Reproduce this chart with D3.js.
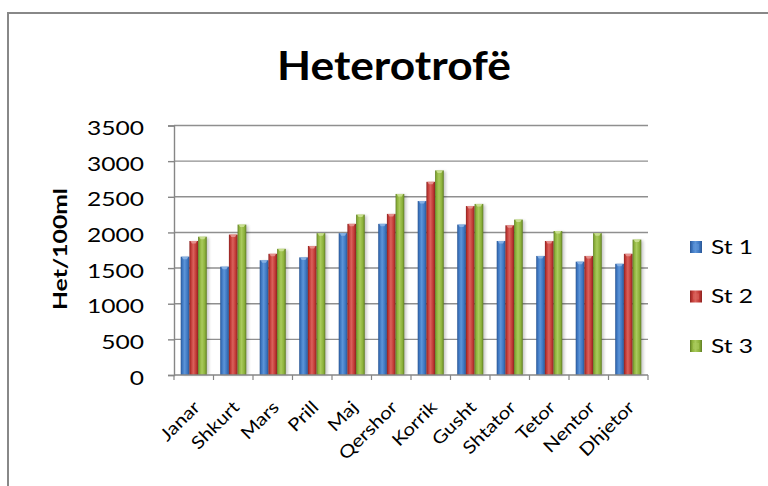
<!DOCTYPE html>
<html>
<head>
<meta charset="utf-8">
<script src="https://cdn.jsdelivr.net/npm/d3@7"></script>
<style>
  body { margin: 0; background: #fff; }
  svg { display: block; }
  text { font-family: "Lato", "Open Sans", sans-serif; fill: #000; }
</style>
</head>
<body>
<svg id="chart" width="768" height="486"></svg>
<script>
// Monthly heterotrophic counts per station
const months = ["Janar","Shkurt","Mars","Prill","Maj","Qershor","Korrik","Gusht","Shtator","Tetor","Nentor","Dhjetor"];
const seriesNames = ["St 1","St 2","St 3"];
const st1 = [1660,1520,1610,1650,1990,2120,2440,2110,1880,1670,1590,1560];
const st2 = [1880,1970,1700,1810,2120,2260,2710,2370,2100,1880,1670,1700];
const st3 = [1940,2110,1770,1990,2250,2540,2870,2400,2180,2020,1990,1900];
const yTicks = [0,500,1000,1500,2000,2500,3000,3500];
const titleText = "Heterotrofë";
const yTitleText = "Het/100ml";

const seriesValues = [st1, st2, st3];
const palette = [
  { dark: "#2a5694", main: "#3c75bf", light: "#5d95d9", cap: "#8fb6e6" },
  { dark: "#8c2220", main: "#c03834", light: "#da625c", cap: "#e99a96" },
  { dark: "#5f7d24", main: "#8cb13a", light: "#a9ca5c", cap: "#cfe39a" }
];

const svg = d3.select("#chart");
const plot = { left: 174, right: 648, top: 125.5, bottom: 375 };

const x0 = d3.scaleBand().domain(months).range([plot.left, plot.right])
  .paddingInner(0.34).paddingOuter(0.17);
const x1 = d3.scaleBand().domain(seriesNames).range([0, x0.bandwidth()]).padding(0);
const y = d3.scaleLinear().domain([0, 3500]).range([plot.bottom, plot.top]);

// widen glyphs horizontally to a given factor
function stretch(sel, sx) {
  sel.each(function () {
    const w = this.getComputedTextLength();
    this.setAttribute("textLength", w * sx);
    this.setAttribute("lengthAdjust", "spacingAndGlyphs");
  });
}

const defs = svg.append("defs");
palette.forEach((c, i) => {
  const g = defs.append("linearGradient").attr("id", "bar" + i)
    .attr("x1", "0").attr("x2", "1").attr("y1", "0").attr("y2", "0");
  [[0, c.dark], [0.18, c.main], [0.45, c.light], [0.78, c.main], [1, c.dark]]
    .forEach(([o, col]) => g.append("stop").attr("offset", o).attr("stop-color", col));
});
defs.append("filter").attr("id", "shadow").attr("x", "-50%").attr("y", "-10%")
  .attr("width", "200%").attr("height", "120%")
  .append("feGaussianBlur").attr("stdDeviation", 1.4);

// outer frame
svg.append("path").attr("d", "M8,486V13H768")
  .attr("fill", "none").attr("stroke", "#888").attr("stroke-width", 2);

// title
svg.append("text").attr("x", 394).attr("y", 79.5).attr("text-anchor", "middle")
  .attr("font-size", 40).attr("font-weight", 700)
  .attr("textLength", 234).attr("lengthAdjust", "spacingAndGlyphs")
  .text(titleText);

// horizontal gridlines
svg.append("g").selectAll("line").data(yTicks.filter(d => d > 0)).join("line")
  .attr("x1", plot.left).attr("x2", plot.right)
  .attr("y1", d => y(d)).attr("y2", d => y(d))
  .attr("stroke", "#8f8f8f").attr("stroke-width", 1.4);

// y axis
const yAxis = svg.append("g").attr("transform", `translate(${plot.left},0)`)
  .call(d3.axisLeft(y).tickValues(yTicks).tickSize(6).tickPadding(24).tickFormat(d3.format("d")));
yAxis.select(".domain").attr("stroke", "#868686").attr("stroke-width", 1.4);
yAxis.selectAll(".tick line").attr("stroke", "#868686").attr("stroke-width", 1.4);
yAxis.selectAll(".tick text")
  .attr("font-family", "Lato, 'Open Sans', sans-serif").attr("font-size", 19)
  .attr("fill", "#000").attr("dy", "0.48em");
const tickSel = yAxis.selectAll(".tick text");
const refW = tickSel.filter(d => d === 3500).node().getComputedTextLength();
const sx = 57 / refW;
stretch(tickSel, sx);

// y axis title
svg.append("text").attr("transform", "translate(67,249) rotate(-90)")
  .attr("text-anchor", "middle").attr("font-size", 19).attr("font-weight", 700)
  .attr("textLength", 122).attr("lengthAdjust", "spacingAndGlyphs")
  .text(yTitleText);

// bars
const groups = svg.append("g").selectAll("g").data(months).join("g")
  .attr("transform", d => `translate(${x0(d)},0)`);

groups.each(function (m, mi) {
  const g = d3.select(this);
  seriesNames.forEach((s, si) => {
    const v = seriesValues[si][mi];
    const bx = x1(s), bw = x1.bandwidth(), by = y(v), bh = y(0) - y(v);
    g.append("rect").attr("x", bx + 2).attr("y", by + 1).attr("width", bw).attr("height", bh - 1)
      .attr("fill", "#000").attr("opacity", 0.22).attr("filter", "url(#shadow)");
  });
  seriesNames.forEach((s, si) => {
    const v = seriesValues[si][mi];
    const bx = x1(s), bw = x1.bandwidth(), by = y(v), bh = y(0) - y(v);
    g.append("rect").attr("x", bx).attr("y", by).attr("width", bw).attr("height", bh)
      .attr("fill", `url(#bar${si})`);
    g.append("polygon")
      .attr("points", `${bx + 1},${by} ${bx + bw - 1},${by} ${bx + bw - 2.5},${by + 2.5} ${bx + 2.5},${by + 2.5}`)
      .attr("fill", palette[si].cap).attr("opacity", 0.85);
  });
});

// x axis
svg.append("line").attr("x1", plot.left).attr("x2", plot.right)
  .attr("y1", plot.bottom).attr("y2", plot.bottom)
  .attr("stroke", "#868686").attr("stroke-width", 1.4);
svg.append("g").selectAll("line").data(d3.range(months.length + 1)).join("line")
  .attr("x1", i => plot.left + i * x0.step()).attr("x2", i => plot.left + i * x0.step())
  .attr("y1", plot.bottom).attr("y2", plot.bottom + 5)
  .attr("stroke", "#868686").attr("stroke-width", 1.2);

const xLabels = svg.append("g").selectAll("text").data(months).join("text")
  .attr("transform", d => `translate(${x0(d) + x0.bandwidth() / 2 + 3},${plot.bottom + 29}) rotate(-45)`)
  .attr("text-anchor", "end").attr("dy", "0.35em").attr("font-size", 17.5)
  .text(d => d);
stretch(xLabels, 1.18);

// legend
const legend = svg.append("g").selectAll("g").data(seriesNames).join("g")
  .attr("transform", (d, i) => `translate(690,${247 + i * 49.5})`);
legend.append("rect").attr("x", 0).attr("y", -6).attr("width", 12).attr("height", 12)
  .attr("fill", (d, i) => `url(#bar${i})`);
legend.append("rect").attr("x", 3).attr("y", -3).attr("width", 6).attr("height", 6)
  .attr("fill", (d, i) => palette[i].light).attr("opacity", 0.6);
const legText = legend.append("text").attr("x", 21).attr("dy", "0.36em").attr("font-size", 19)
  .text(d => d);
stretch(legText, sx);
</script>
</body>
</html>
